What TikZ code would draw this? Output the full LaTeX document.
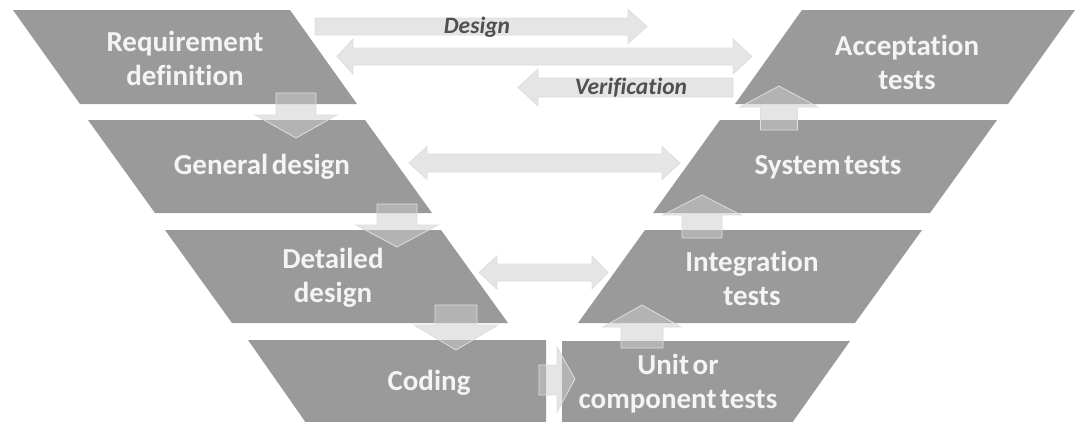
\documentclass[tikz,border=0pt]{standalone}
\usepackage{fontspec}
\setmainfont{Carlito}[Ligatures={NoCommon}, WordSpace=0.55]
\definecolor{stage}{RGB}{154,154,154}
\definecolor{stagetext}{RGB}{244,244,244}
\definecolor{arrowfill}{RGB}{205,205,205}
\definecolor{arrowline}{RGB}{222,222,222}
\definecolor{flowtext}{RGB}{80,80,80}
\tikzset{
  stagebox/.style={fill=stage},
  stagelabel/.style={text=stagetext, font=\bfseries\fontsize{29}{34}\selectfont, align=center, inner sep=0pt},
  flowlabel/.style={text=flowtext, font=\bfseries\itshape\fontsize{23.5}{26}\selectfont, inner sep=0pt},
  blockarrow/.style={fill=arrowfill, fill opacity=0.5, draw=arrowline, line width=0.8pt, line join=miter}
}
% horizontal block arrow: tail x, head base x, tip x, centre y, body half height, head half height
\newcommand{\hblockarrow}[6]{%
  \path[blockarrow] (#1,#4-#5) -- (#2,#4-#5) -- (#2,#4-#6) -- (#3,#4) -- (#2,#4+#6)
    -- (#2,#4+#5) -- (#1,#4+#5) -- cycle;}
% double headed block arrow: left tip, left base, right base, right tip, centre y, half heights
\newcommand{\dblockarrow}[7]{%
  \path[blockarrow] (#1,#5) -- (#2,#5-#7) -- (#2,#5-#6) -- (#3,#5-#6) -- (#3,#5-#7) -- (#4,#5)
    -- (#3,#5+#7) -- (#3,#5+#6) -- (#2,#5+#6) -- (#2,#5+#7) -- cycle;}
% vertical block arrow: centre x, tail y, head base y, tip y, body half width, head half width
\newcommand{\vblockarrow}[6]{%
  \path[blockarrow] (#1-#5,#2) -- (#1-#5,#3) -- (#1-#6,#3) -- (#1,#4) -- (#1+#6,#3)
    -- (#1+#5,#3) -- (#1+#5,#2) -- cycle;}
\begin{document}
\begin{tikzpicture}[x=1pt, y=-1pt]
  \useasboundingbox (0,0) rectangle (1076,421);
  \clip (0,0) rectangle (1076,421);
  \fill[white] (0,0) rectangle (1076,421);

  % left branch: specification stages
  \path[stagebox] (13,10) -- (290,10) -- (357,104) -- (80,104) -- cycle;
  \path[stagebox] (88,120) -- (365,120) -- (432,213) -- (155,213) -- cycle;
  \path[stagebox] (165,230) -- (441,230) -- (508,323) -- (232,323) -- cycle;
  \path[stagebox] (248,340) -- (546,340) -- (546,430) -- (311,430) -- cycle;

  % right branch: test stages
  \path[stagebox] (802,10) -- (1075,10) -- (1008,104) -- (735,104) -- cycle;
  \path[stagebox] (720,120) -- (997,120) -- (930,213) -- (653,213) -- cycle;
  \path[stagebox] (645,230) -- (922,230) -- (855,323) -- (578,323) -- cycle;
  \path[stagebox] (562,341) -- (850,341) -- (787,430) -- (562,430) -- cycle;

  % stage labels
  \node[stagelabel] (req) at (185,58) {Requirement\\definition};
  \node[stagelabel] (gen) at (262,167) {General design};
  \node[stagelabel] (det) at (333,278) {Detailed\\design};
  \node[stagelabel] (cod) at (429,383) {Coding};
  \node[stagelabel] (acc) at (907,62) {Acceptation\\tests};
  \node[stagelabel] (sys) at (828,167) {System tests};
  \node[stagelabel] (int) at (752,278) {Integration\\tests};
  \node[stagelabel] (unit) at (678,384) {Unit or\\component tests};

  % design / verification flow at the top
  \hblockarrow{315}{628}{647}{26.5}{8.5}{17}
  \dblockarrow{337}{353}{733}{752}{56.5}{8.5}{17.5}
  \hblockarrow{733}{538}{518}{87.5}{9.5}{18.5}
  \node[flowlabel] (design) at (477,27) {Design};
  \node[flowlabel] (verif) at (631,88) {Verification};

  % correspondence between levels
  \dblockarrow{409}{427}{662}{680}{163}{9}{16.5}
  \dblockarrow{479}{497}{592}{608}{272.5}{8.5}{16.5}

  % descending arrows
  \vblockarrow{296}{93}{115}{138}{20}{41}
  \vblockarrow{397}{204}{225}{247}{20}{41}
  \vblockarrow{456}{305}{325}{350}{21}{42}

  % coding to unit tests
  \path[blockarrow] (539,365) -- (557,365) -- (557,347) -- (575,379) -- (557,412)
    -- (557,395) -- (539,395) -- cycle;

  % ascending arrows
  \vblockarrow{642}{348}{327}{305}{21}{39}
  \vblockarrow{702}{238}{215}{195}{20}{39}
  \vblockarrow{779}{130}{107}{86}{18.5}{39}
\end{tikzpicture}
\end{document}
